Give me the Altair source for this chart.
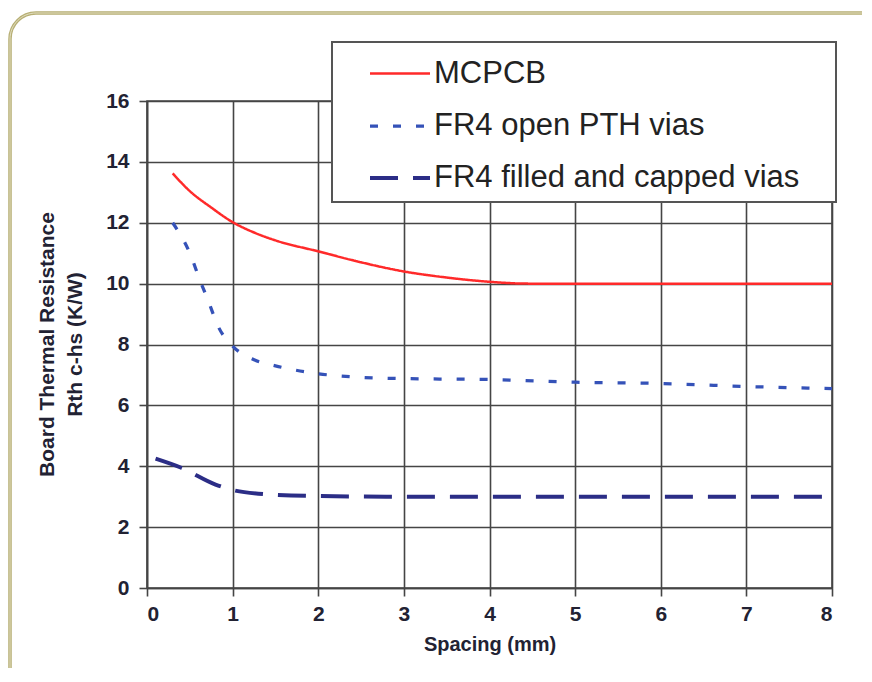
import altair as alt
import pandas as pd

# ---- data ----
series_names = ["MCPCB", "FR4 open PTH vias", "FR4 filled and capped vias"]

mcpcb_x = [0.3, 0.5, 0.75, 1.0, 1.25, 1.5, 2.0, 2.5, 3.0, 3.5, 4.0, 4.45, 5.0, 6.0, 7.0, 8.0]
mcpcb_y = [13.62, 13.04, 12.5, 12.02, 11.68, 11.42, 11.06, 10.7, 10.4, 10.2, 10.06, 10.0, 10.0, 10.0, 10.0, 10.0]

open_x = [0.3, 0.5, 0.62, 0.72, 0.83, 1.0, 1.25, 1.5, 2.0, 2.5, 3.0, 4.0, 5.0, 6.0, 7.0, 8.0]
open_y = [12.0, 11.0, 10.1, 9.4, 8.6, 7.95, 7.5, 7.3, 7.04, 6.92, 6.88, 6.85, 6.76, 6.72, 6.62, 6.55]

filled_x = [0.1, 0.4, 0.8, 1.0, 1.3, 2.0, 3.0, 4.0, 5.0, 6.0, 7.0, 8.0]
filled_y = [4.25, 3.95, 3.4, 3.22, 3.1, 3.02, 3.0, 3.0, 3.0, 3.0, 3.0, 3.0]

x_ticks = [0, 1, 2, 3, 4, 5, 6, 7, 8]
y_ticks = [0, 2, 4, 6, 8, 10, 12, 14, 16]

series_colors = ["#ff2a2a", "#3552b8", "#2b2d86"]
series_dashes = [[1, 0], [8, 15], [28, 15]]
series_widths = [2.5, 4, 4.5]

rows = []
for name, xs, ys in zip(series_names, [mcpcb_x, open_x, filled_x], [mcpcb_y, open_y, filled_y]):
    for xv, yv in zip(xs, ys):
        rows.append({"series": name, "spacing": xv, "rth": yv})
df = pd.DataFrame(rows)

TICK_FONT = "'Liberation Sans Narrow', 'Arial Narrow', 'Liberation Sans', Arial, sans-serif"
LEG_FONT = "'Liberation Sans', Arial, sans-serif"
GRID = "#454545"

legend = alt.Legend(
    title=None,
    orient="none",
    legendX=185,
    legendY=-62,
    padding=3,
    symbolOffset=33,
    symbolType="stroke",
    symbolSize=3600,
    symbolStrokeWidth=3.5,
    labelFont=LEG_FONT,
    labelFontSize=31,
    labelColor="#222222",
    labelOffset=2,
    labelLimit=600,
    rowPadding=5,
)

line = alt.Chart(df).mark_line(interpolate="monotone").encode(
    x=alt.X(
        "spacing:Q",
        scale=alt.Scale(domain=[0, 8], nice=False, zero=False),
        axis=alt.Axis(values=x_ticks, title="Spacing (mm)", format="d",
                      labelPadding=7, titlePadding=10),
    ),
    y=alt.Y(
        "rth:Q",
        scale=alt.Scale(domain=[0, 16], nice=False),
        axis=alt.Axis(values=y_ticks, title=["Board Thermal Resistance", "Rth c-hs   (K/W)"],
                      format="d", labelPadding=10, titleX=-100, titleY=243,
                      titleAngle=270, titleLineHeight=28, titleBaseline="middle",
                      titleFontSize=21),
    ),
    color=alt.Color("series:N", scale=alt.Scale(domain=series_names, range=series_colors), legend=legend),
    strokeDash=alt.StrokeDash("series:N", scale=alt.Scale(domain=series_names, range=series_dashes), legend=legend),
    strokeWidth=alt.StrokeWidth("series:N", scale=alt.Scale(domain=series_names, range=series_widths), legend=None),
)

frame = pd.DataFrame({"k": [0]})
border_outer = alt.Chart(frame).mark_rect(
    fill="transparent", stroke="#b7af74", strokeWidth=3.5, cornerRadius=26, clip=False
).encode(x=alt.value(-137), x2=alt.value(760), y=alt.value(-88), y2=alt.value(640))
border_inner = alt.Chart(frame).mark_rect(
    fill="transparent", stroke="#eeebd6", strokeWidth=0.8, cornerRadius=26, clip=False
).encode(x=alt.value(-137), x2=alt.value(760), y=alt.value(-88), y2=alt.value(640))
legend_box = alt.Chart(frame).mark_rect(
    fill="white", stroke="#555555", strokeWidth=2, clip=False
).encode(x=alt.value(185), x2=alt.value(689), y=alt.value(-59), y2=alt.value(101))

chart = alt.layer(border_outer, border_inner, line, legend_box).properties(
    width=685,
    height=487,
    padding={"left": 139, "top": 93, "right": 30, "bottom": 80},
    autosize=alt.AutoSizeParams(type="none"),
    background="white",
).configure_view(
    stroke=GRID, strokeWidth=1.6
).configure_axis(
    grid=True,
    gridColor=GRID,
    gridWidth=1.6,
    gridOpacity=1,
    domainColor=GRID,
    domainWidth=1.6,
    tickColor=GRID,
    tickWidth=1.6,
    tickSize=8,
    labelFont=TICK_FONT,
    labelFontWeight="bold",
    labelFontSize=21,
    labelColor="#222233",
    titleFont=TICK_FONT,
    titleFontWeight="bold",
    titleFontSize=20,
    titleColor="#222233",
)

chart.save("out.html", embed_options={"renderer": "svg", "actions": False})
